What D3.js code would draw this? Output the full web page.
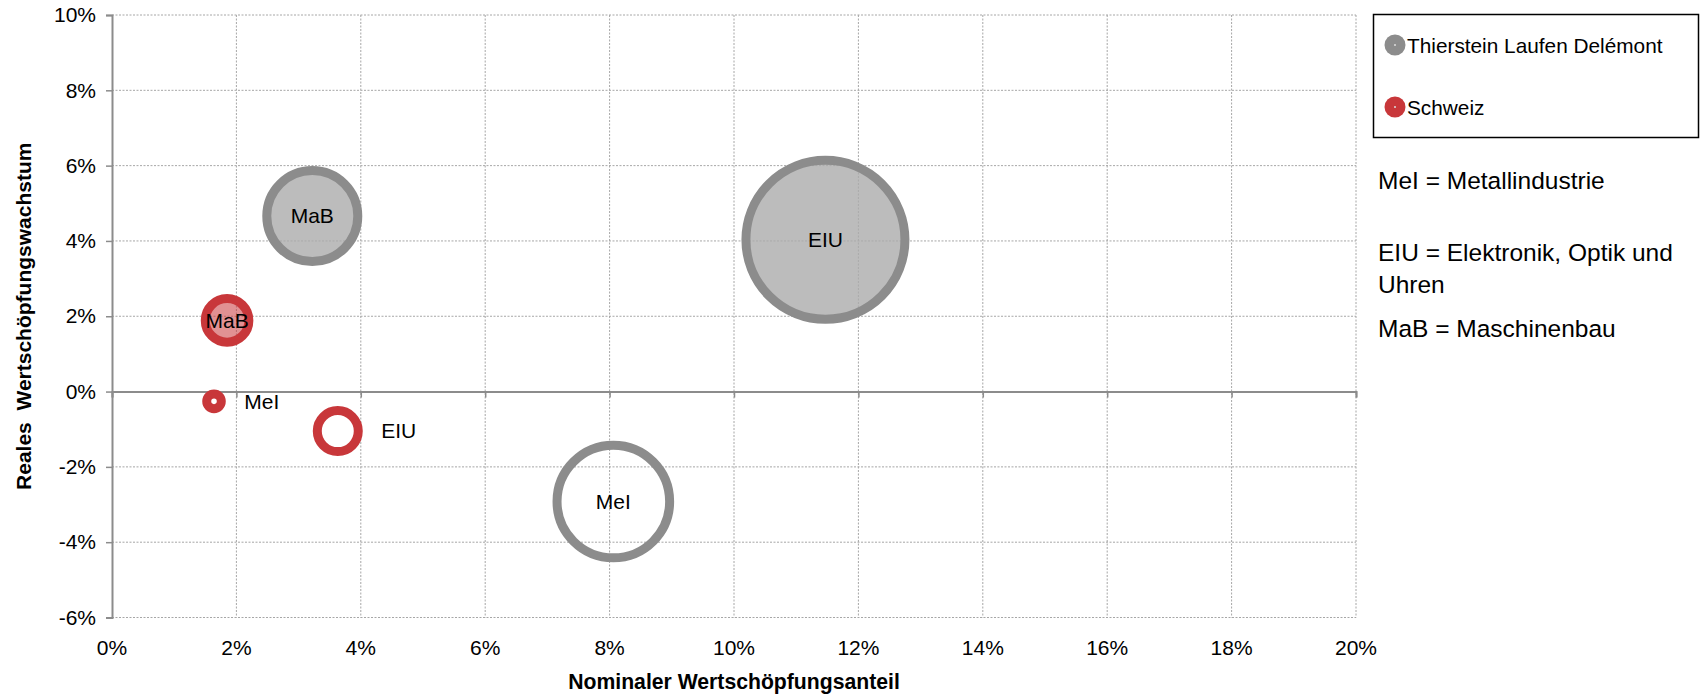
<!DOCTYPE html>
<html>
<head>
<meta charset="utf-8">
<script src="https://cdn.jsdelivr.net/npm/d3@7"></script>
<style>
body { margin:0; background:#fff; }
text { font-family: "Liberation Sans", Arial, sans-serif; fill:#000; }
</style>
</head>
<body>
<svg id="chart" width="1702" height="695"></svg>
<script>
// branch codes, same order for both series
var branches = ["MeI", "EIU", "MaB"];

// Thierstein Laufen Delémont
var tldShare = [8.06, 11.47, 3.22];    // Nominaler Wertschöpfungsanteil in %
var tldGrowth = [-2.92, 4.03, 4.66];   // Reales Wertschöpfungswachstum in %
var tldSize = [3.17, 6.32, 2.07];      // bubble size

// Schweiz
var chShare = [1.64, 3.63, 1.85];
var chGrowth = [-0.26, -1.05, 1.89];
var chSize = [0.053, 0.42, 0.475];

var xTicks = [0, 2, 4, 6, 8, 10, 12, 14, 16, 18, 20];
var yTicks = [-6, -4, -2, 0, 2, 4, 6, 8, 10];

var seriesNames = ["Thierstein Laufen Delémont", "Schweiz"];
var notes = ["MeI = Metallindustrie", "EIU = Elektronik, Optik und", "Uhren", "MaB = Maschinenbau"];

var grey = "#8c8c8c", red = "#c8373a";

var svg = d3.select("#chart");

var x = d3.scaleLinear().domain([0, 20]).range([112, 1356]);
var y = d3.scaleLinear().domain([-6, 10]).range([617.5, 15]);
var r = d3.scaleSqrt().domain([0, d3.max(tldSize)]).range([0, 79.5]);

// gridlines
var grid = svg.append("g").attr("class", "grid");
grid.selectAll("line.v")
.data(xTicks.filter(function(d){ return d > 0; }))
.enter().append("line")
.attr("x1", function(d){ return x(d); })
.attr("x2", function(d){ return x(d); })
.attr("y1", y(10)).attr("y2", y(-6))
.attr("stroke", "#a6a6a6").attr("stroke-dasharray", "2,1.5");
grid.selectAll("line.h")
.data(yTicks.filter(function(d){ return d != 0; }))
.enter().append("line")
.attr("x1", x(0)).attr("x2", x(20))
.attr("y1", function(d){ return y(d); })
.attr("y2", function(d){ return y(d); })
.attr("stroke", "#a6a6a6").attr("stroke-dasharray", "2,1.5");

// zero line with small ticks pointing down
svg.append("g")
.attr("transform", "translate(0," + y(0) + ")")
.call(d3.axisBottom(x).tickValues(xTicks).tickSize(6).tickFormat(""))
.call(function(g){
    g.select(".domain").attr("stroke", grey).attr("stroke-width", 2);
    g.selectAll(".tick line").attr("stroke", grey).attr("stroke-width", 1.5);
});

// x tick labels sit at the bottom of the plot
svg.append("g").selectAll("text")
.data(xTicks)
.enter().append("text")
.attr("x", function(d){ return x(d); })
.attr("y", y(-6) + 37)
.attr("text-anchor", "middle")
.style("font-size", "21px")
.text(function(d){ return d + "%"; });

// y axis
svg.append("g")
.attr("transform", "translate(" + x(0) + ",0)")
.call(d3.axisLeft(y).tickValues(yTicks).tickSize(6).tickPadding(10).tickFormat(function(d){ return d + "%"; }))
.call(function(g){
    g.select(".domain").attr("stroke", grey).attr("stroke-width", 2);
    g.selectAll(".tick line").attr("stroke", grey).attr("stroke-width", 1.5);
    g.selectAll(".tick text").style("font-size", "21px").attr("font-family", null).attr("fill", "#000");
});

// axis titles
svg.append("text")
.attr("x", (x(0) + x(20)) / 2)
.attr("y", 689)
.attr("text-anchor", "middle")
.style("font-size", "21.2px").style("font-weight", "bold")
.text("Nominaler Wertschöpfungsanteil");

svg.append("text")
.attr("transform", "translate(31," + (y(10) + y(-6)) / 2 + ") rotate(-90)")
.attr("text-anchor", "middle")
.style("font-size", "21px").style("font-weight", "bold").style("white-space", "pre")
.text("Reales  Wertschöpfungswachstum");

// bubbles
function drawSeries(share, growth, size, color) {
    var data = branches.map(function(b, i){
        return {name: b, x: share[i], y: growth[i], s: size[i]};
    });
    var g = svg.append("g");
    g.selectAll("circle")
    .data(data)
    .enter().append("circle")
    .attr("cx", function(d){ return x(d.x); })
    .attr("cy", function(d){ return y(d.y); })
    .attr("r", function(d){ return r(d.s); })
    .attr("stroke", color)
    .attr("stroke-width", 9)
    .attr("fill", function(d){ return d.y > 0 ? (color == grey ? "#ababab" : color) : "none"; })
    .attr("fill-opacity", function(d){ return color == grey ? 0.8 : 0.55; });

    //small empty bubbles get their label on the right
    g.selectAll("text")
    .data(data)
    .enter().append("text")
    .attr("x", function(d){
        var inside = d.y > 0 || r(d.s) > 40;
        return inside ? x(d.x) : x(d.x) + r(d.s) + 23;
    })
    .attr("y", function(d){ return y(d.y); })
    .attr("dy", "0.35em")
    .attr("text-anchor", function(d){ return (d.y > 0 || r(d.s) > 40) ? "middle" : "start"; })
    .style("font-size", "21px")
    .text(function(d){ return d.name; });
}

drawSeries(tldShare, tldGrowth, tldSize, grey);
drawSeries(chShare, chGrowth, chSize, red);

// legend
var legend = svg.append("g");
legend.append("rect")
.attr("x", 1373.5).attr("y", 14.5)
.attr("width", 325).attr("height", 123)
.attr("fill", "none").attr("stroke", "#000").attr("stroke-width", 1.5);

var legItems = legend.selectAll("g.item")
.data(seriesNames)
.enter().append("g")
.attr("transform", function(d, i){ return "translate(1395," + (45 + i * 62) + ")"; });
legItems.append("circle")
.attr("r", 10.5)
.attr("fill", function(d, i){ return i == 0 ? grey : red; });
legItems.append("circle")
.attr("r", 1)
.attr("fill", "#ddd");
legItems.append("text")
.attr("x", 12)
.attr("dy", "0.36em")
.style("font-size", "20.8px")
.text(function(d){ return d; });

// abbreviations
var noteY = [189, 261, 293, 337];
svg.append("g").selectAll("text")
.data(notes)
.enter().append("text")
.attr("x", 1378)
.attr("y", function(d, i){ return noteY[i]; })
.style("font-size", "24.5px")
.text(function(d){ return d; });
</script>
</body>
</html>
